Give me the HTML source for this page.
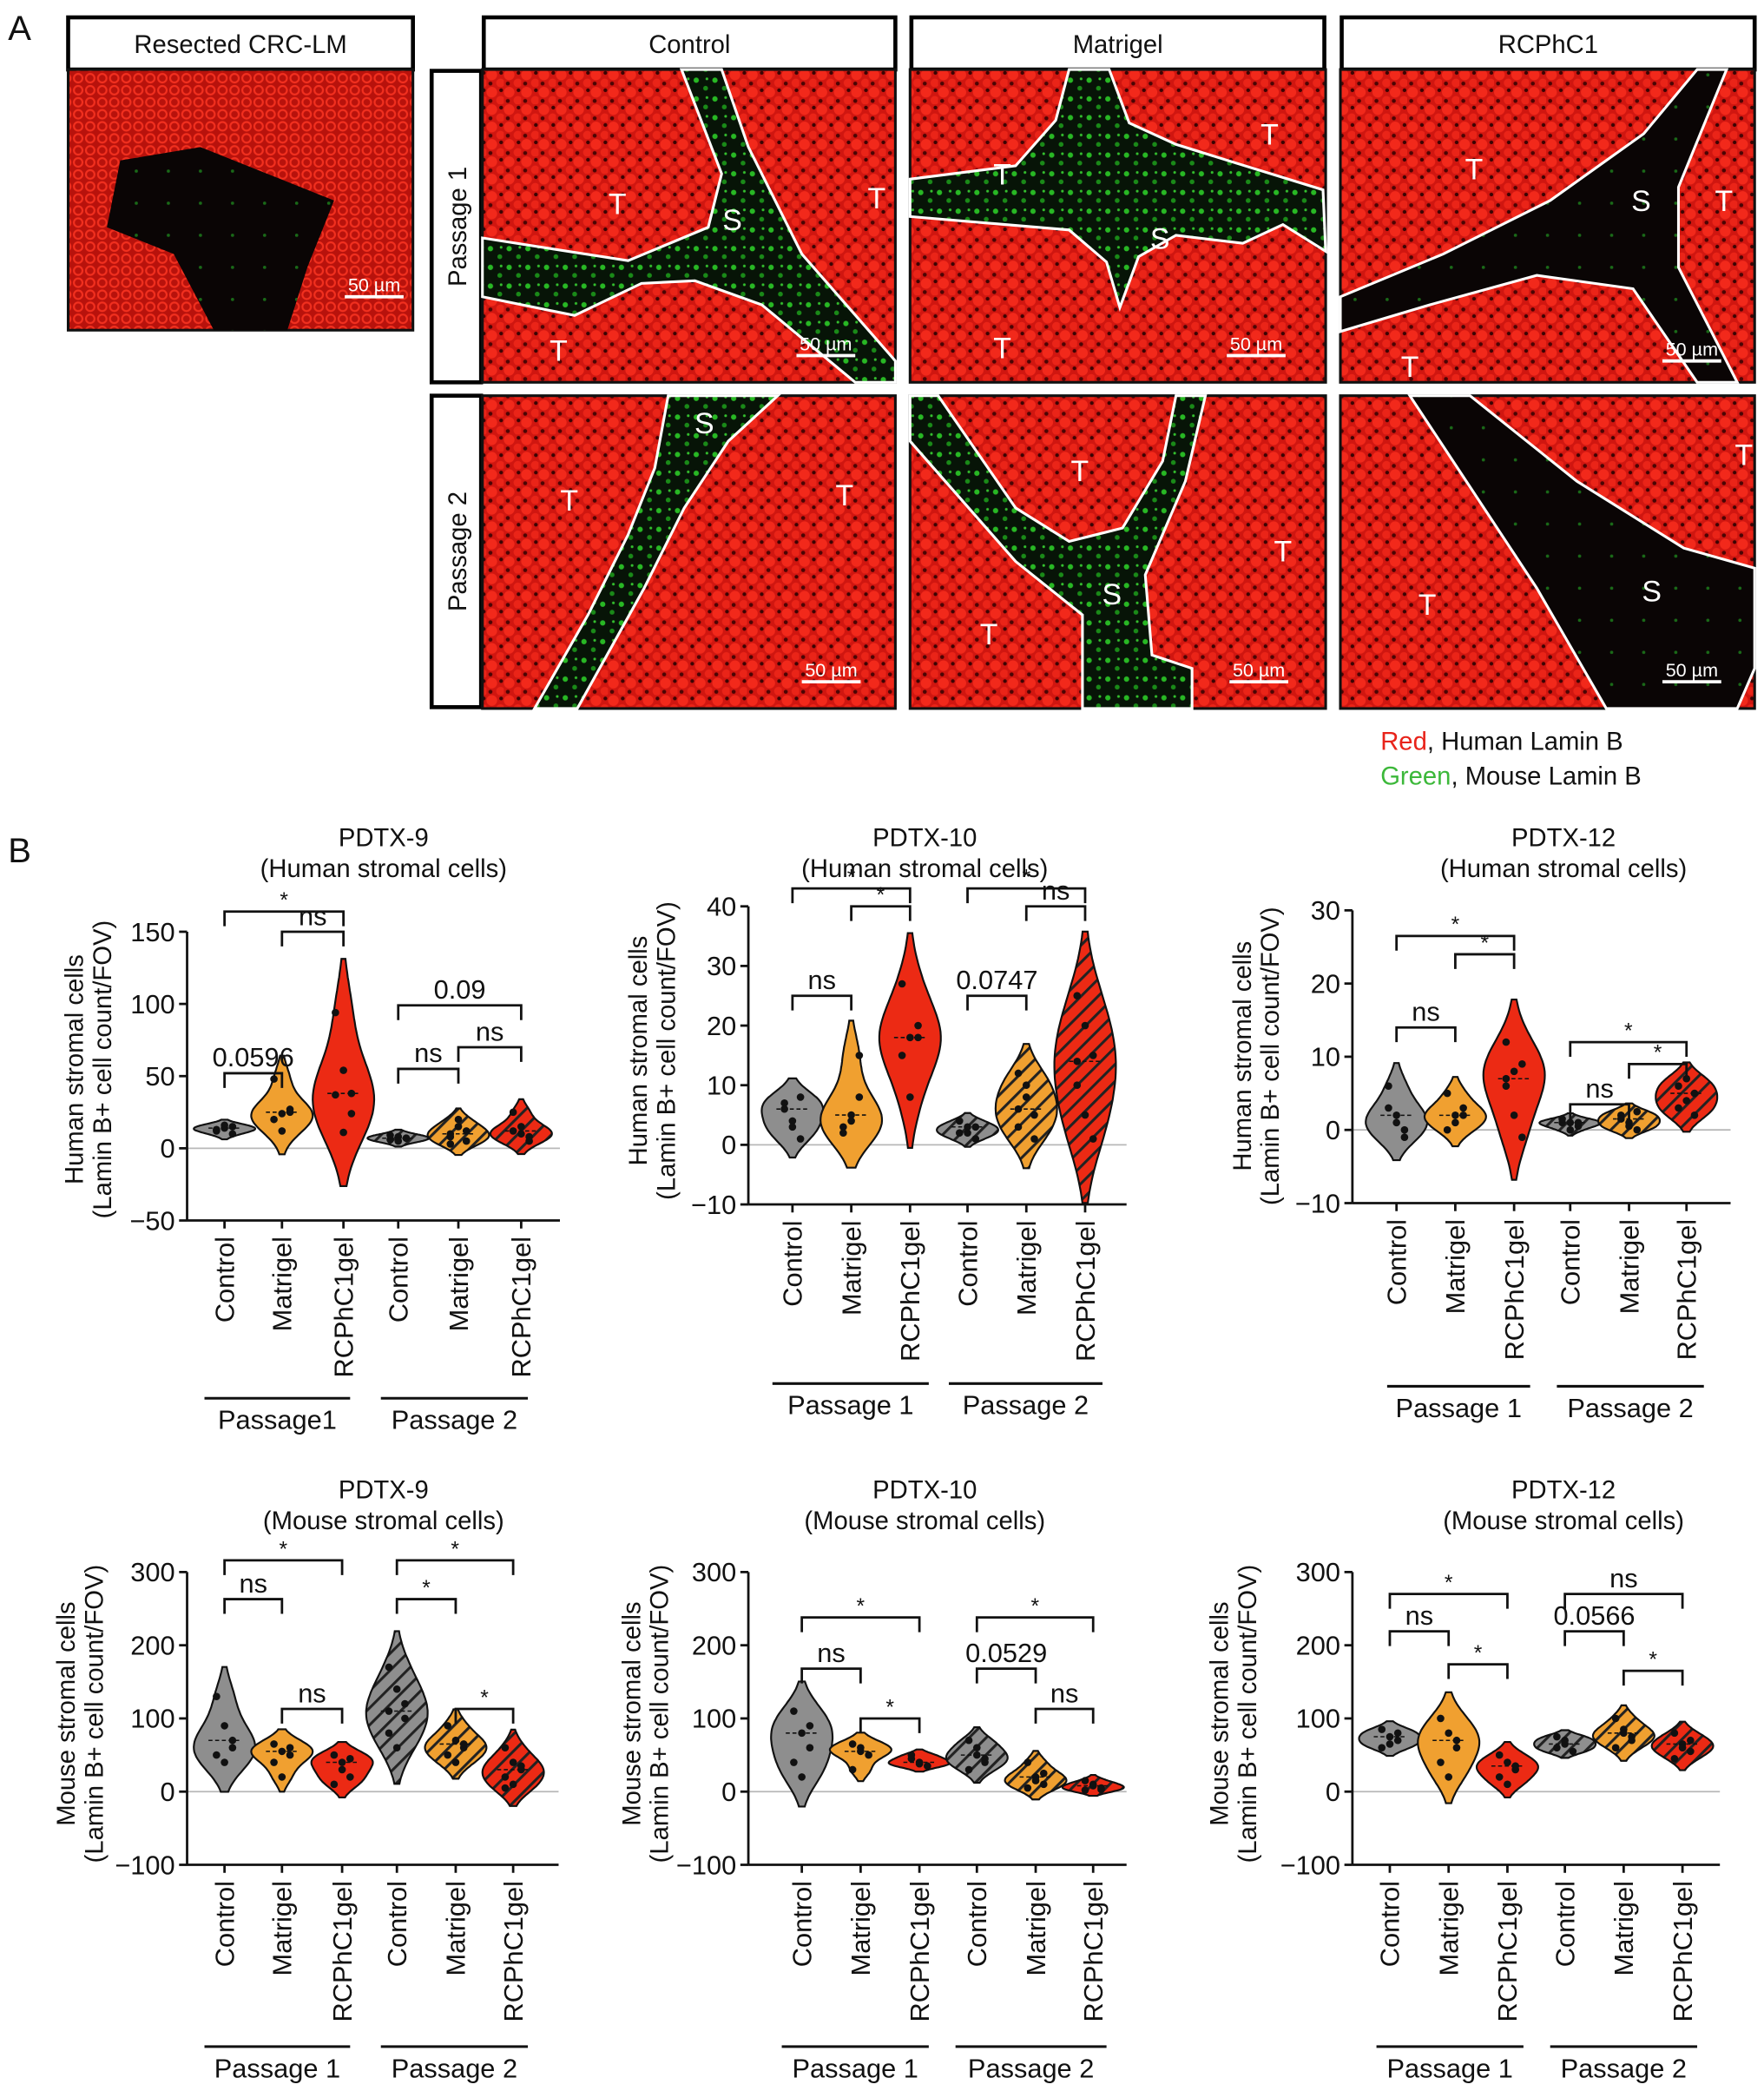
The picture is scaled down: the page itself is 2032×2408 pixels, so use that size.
<!DOCTYPE html>
<html><head><meta charset="utf-8"><style>
html,body{margin:0;padding:0;background:#fff}
svg{display:block}
text{font-family:"Liberation Sans",Arial,sans-serif;fill:#111}
</style></head><body>
<svg id="fig" width="2032" height="2408" viewBox="0 0 1320 1564.2" preserveAspectRatio="none" xmlns="http://www.w3.org/2000/svg">
<defs>
<pattern id="cells" width="13" height="13" patternUnits="userSpaceOnUse">
<rect width="13" height="13" fill="#d01610"/>
<circle cx="4" cy="4" r="4" fill="#f2291b"/>
<circle cx="10.5" cy="10" r="3.2" fill="#ea2418"/>
<circle cx="11" cy="2.5" r="1.4" fill="#3a0403"/>
<circle cx="3" cy="10.5" r="1.5" fill="#4a0504"/>
</pattern>
<pattern id="cells2" width="9" height="9" patternUnits="userSpaceOnUse">
<rect width="9" height="9" fill="#b8120c"/>
<circle cx="4.5" cy="4.5" r="3.2" fill="none" stroke="#f2301f" stroke-width="1.4"/>
</pattern>
<pattern id="stroma" width="14" height="14" patternUnits="userSpaceOnUse">
<rect width="14" height="14" fill="#071407"/>
<circle cx="3" cy="4" r="2" fill="#28b824"/>
<circle cx="10" cy="10" r="1.8" fill="#1a8a18"/>
<circle cx="11" cy="3" r="1" fill="#34c02e"/>
</pattern>
<pattern id="stromaDark" width="24" height="24" patternUnits="userSpaceOnUse">
<rect width="24" height="24" fill="#0a0505"/>
<circle cx="6" cy="8" r="1.2" fill="#1a6a18"/>
</pattern>
<pattern id="hG" width="9" height="9" patternUnits="userSpaceOnUse" patternTransform="rotate(45)"><rect width="9" height="9" fill="#8e8e8e"/><rect width="2" height="9" fill="#222"/></pattern>
<pattern id="hO" width="9" height="9" patternUnits="userSpaceOnUse" patternTransform="rotate(45)"><rect width="9" height="9" fill="#f0a030"/><rect width="2" height="9" fill="#222"/></pattern>
<pattern id="hR" width="9" height="9" patternUnits="userSpaceOnUse" patternTransform="rotate(45)"><rect width="9" height="9" fill="#ec2a14"/><rect width="2" height="9" fill="#222"/></pattern>
</defs>
<g id="panelA"></g>
<g id="panelB"></g>
</svg>
<script>
const NS="http://www.w3.org/2000/svg";
function el(tag,attrs,parent,txt){const e=document.createElementNS(NS,tag);for(const k in attrs)e.setAttribute(k,attrs[k]);if(txt!==undefined)e.textContent=txt;(parent||document.getElementById('fig')).appendChild(e);return e;}

/* ---------------- Panel A ---------------- */
const A=document.getElementById('panelA');
const aLabel=el('text',{x:6,y:30,'font-size':26},A,'A');


function headerBox(x,y,w,h,txt,name){
  const g=el('g',{},A);
  
  
  el('rect',{x:x,y:y,width:w,height:h,fill:'#fff',stroke:'#000','stroke-width':3},g);
  el('text',{x:x+w/2,y:y+h/2+7,'text-anchor':'middle','font-size':19},g,txt);
}
headerBox(51,13,258,39,'Resected CRC-LM','header-resected');
headerBox(362,13,308,39,'Control','header-control');
headerBox(682,13,309,39,'Matrigel','header-matrigel');
headerBox(1004,13,309,39,'RCPhC1','header-rcphc1');
function rowBox(y,h,txt,name){
  const g=el('g',{},A);
  
  
  el('rect',{x:323,y:y,width:37,height:h,fill:'#fff',stroke:'#000','stroke-width':3},g);
  el('text',{x:0,y:0,'text-anchor':'middle','font-size':19,transform:`translate(349,${y+h/2}) rotate(-90)`},g,txt);
}
rowBox(53,233,'Passage 1','row-passage-1');
rowBox(296,233,'Passage 2','row-passage-2');

const micro=[
 {x:51,y:52,w:258,h:195,name:'image-resected',pat:'cells2',poly:[[90,120],[150,110],[200,130],[250,150],[230,200],[215,247],[160,247],[130,190],[80,170]],sp:'stromaDark',labels:[],bar:[258,218]},
 {x:361,y:52,w:309,h:234,name:'image-p1-control',pat:'cells',poly:[[510,52],[540,130],[530,170],[470,195],[361,178],[361,222],[430,236],[480,212],[520,210],[570,228],[640,286],[670,286],[670,270],[600,190],[560,110],[540,52]],sp:'stroma',labels:[['T',462,160],['S',548,172],['T',656,156],['T',418,270]],bar:[596,262]},
 {x:681,y:52,w:311,h:234,name:'image-p1-matrigel',pat:'cells',poly:[[800,52],[830,52],[845,92],[880,108],[925,122],[990,142],[992,188],[960,168],[930,182],[880,176],[852,192],[838,230],[828,196],[800,172],[681,162],[681,134],[760,124],[790,90]],sp:'stroma',labels:[['T',750,138],['T',950,108],['S',868,186],['T',750,268]],bar:[918,262]},
 {x:1003,y:52,w:310,h:234,name:'image-p1-rcphc1',pat:'cells',poly:[[1270,52],[1292,52],[1256,140],[1256,200],[1300,286],[1270,286],[1222,216],[1150,206],[1070,228],[1003,248],[1003,222],[1080,190],[1160,150],[1230,100]],sp:'stromaDark',labels:[['T',1103,134],['S',1228,158],['T',1290,158],['T',1055,282]],bar:[1244,266]},
 {x:361,y:296,w:309,h:234,name:'image-p2-control',pat:'cells',poly:[[500,296],[582,296],[545,330],[512,380],[482,440],[432,530],[400,530],[440,460],[470,400],[490,350]],sp:'stroma',labels:[['S',527,324],['T',426,382],['T',632,378]],bar:[600,506]},
 {x:681,y:296,w:311,h:234,name:'image-p2-matrigel',pat:'cells',poly:[[681,296],[702,296],[760,380],[800,405],[840,395],[870,345],[880,296],[902,296],[887,360],[857,430],[862,490],[892,500],[892,530],[810,530],[810,460],[760,420],[681,330]],sp:'stroma',labels:[['T',808,360],['T',960,420],['S',832,452],['T',740,482]],bar:[920,506]},
 {x:1003,y:296,w:310,h:234,name:'image-p2-rcphc1',pat:'cells',poly:[[1055,296],[1100,296],[1180,360],[1260,410],[1313,425],[1313,500],[1300,530],[1202,530],[1150,440]],sp:'stromaDark',labels:[['T',1305,348],['T',1068,460],['S',1236,450]],bar:[1244,506]}
];
micro.forEach(m=>{
  const g=el('g',{},A);
  
  
  el('rect',{x:m.x,y:m.y,width:m.w,height:m.h,fill:'url(#'+m.pat+')',stroke:'#111','stroke-width':2},g);
  el('polygon',{points:m.poly.map(p=>p.join(',')).join(' '),fill:'url(#'+m.sp+')',stroke:m.name==='image-resected'?'none':'#fff','stroke-width':2},g);
  m.labels.forEach(l=>el('text',{x:l[1],y:l[2],'text-anchor':'middle','font-size':22,style:'fill:#fff'},g,l[0]));
  el('line',{x1:m.bar[0],y1:m.bar[1]+4,x2:m.bar[0]+44,y2:m.bar[1]+4,stroke:'#fff','stroke-width':2.5},g);
  el('text',{x:m.bar[0]+22,y:m.bar[1],'text-anchor':'middle','font-size':14,style:'fill:#fff'},g,'50 µm');
});
const leg=el('g',{},A);


const l1=el('text',{x:1033,y:561,'font-size':19},leg);
el('tspan',{style:'fill:#e8231a'},l1,'Red');el('tspan',{},l1,', Human Lamin B');
const l2=el('text',{x:1033,y:587,'font-size':19},leg);
el('tspan',{style:'fill:#3cb83a'},l2,'Green');el('tspan',{},l2,', Mouse Lamin B');

/* ---------------- Panel B data ---------------- */
const categories=['Control','Matrigel','RCPhC1gel','Control','Matrigel','RCPhC1gel'];
const passages=['Passage 1','Passage 2'];

const humanTicks9=[150,100,50,0,-50];
const humanVals9=[[12,14,15,13,16,10],[48,24,27,20,12,25],[94,54,38,37,11,24],[6,8,7,9,5,7],[10,15,5,8,20,12,3],[25,10,8,12,15,5]];
const humanSig9=[[0,2,164,'*'],[1,2,150,'ns'],[0,1,52,'0.0596'],[3,5,99,'0.09'],[3,4,55,'ns'],[4,5,70,'ns']];

const humanTicks10=[40,30,20,10,0,-10];
const humanVals10=[[7,4,1,6,3,8],[2,4,8,3,5,15],[27,18,18,15,8,20],[2,3,1,4,2,3],[12,8,5,3,10,1,6],[25,20,15,10,5,1,14]];
const humanSig10=[[0,2,43,'*'],[1,2,40,'*'],[0,1,25,'ns'],[3,5,43,'*'],[4,5,40,'ns'],[3,4,25,'0.0747']];

const humanTicks12=[30,20,10,0,-10];
const humanVals12=[[6,1,0,3,2,-1],[5,2,3,0,1,2],[12,8,9,6,2,-1,7],[1,1,0.5,1.5,0,1],[2,1,0,1.5,0.5,2.5],[6,4,5,3,7,2]];
const humanSig12=[[0,2,26.5,'*'],[1,2,24,'*'],[0,1,14,'ns'],[3,5,12,'*'],[4,5,9,'*'],[3,4,3.5,'ns']];

const mouseTicks=[300,200,100,0,-100];
const mouseVals9=[[130,90,60,50,40,70],[65,55,50,40,20,60],[50,40,20,10,30,45],[170,140,100,80,60,120,110],[90,70,60,50,40,65],[60,40,30,20,10,35,5]];
const mouseSig9=[[0,2,316,'*'],[0,1,263,'ns'],[1,2,113,'ns'],[3,5,316,'*'],[3,4,263,'*'],[4,5,113,'*']];
const mouseVals10=[[110,80,60,40,20,90],[65,60,50,30,55],[45,40,35,50,38],[70,50,40,30,60,45],[40,20,10,5,15,25],[15,10,5,2,8,3]];
const mouseSig10=[[0,2,238,'*'],[0,1,168,'ns'],[1,2,100,'*'],[3,5,238,'*'],[3,4,168,'0.0529'],[4,5,113,'ns']];
const mouseVals12=[[85,75,70,60,65,80],[100,80,60,40,20,70],[50,40,30,20,10,35],[75,65,55,60,70],[100,85,75,60,80,70],[80,65,55,45,60,70]];
const mouseSig12=[[0,2,270,'*'],[0,1,219,'ns'],[1,2,174,'*'],[3,5,270,'ns'],[3,4,219,'0.0566'],[4,5,165,'*']];

const fills=['#8e8e8e','#f0a030','#ec2a14','url(#hG)','url(#hO)','url(#hR)'];

const charts=[
 {name:'chart-pdtx9-human',t1:'PDTX-9',t2:'(Human stromal cells)',tc:287,ty:627,ax:140,axEnd:419,yTop:697,yBot:913,ticks:humanTicks9,vals:humanVals9,sig:humanSig9,cx:[168,211,257,298,343,390],yl:'Human stromal cells',ylx:62,yly:800,pl:1046,plab:['Passage1','Passage 2'],pr:[[153,262],[285,395]]},
 {name:'chart-pdtx10-human',t1:'PDTX-10',t2:'(Human stromal cells)',tc:692,ty:627,ax:560,axEnd:843,yTop:678,yBot:901,ticks:humanTicks10,vals:humanVals10,sig:humanSig10,cx:[593,637,681,724,768,812],yl:'Human stromal cells',ylx:484,yly:786,pl:1035,plab:passages,pr:[[578,695],[710,825]]},
 {name:'chart-pdtx12-human',t1:'PDTX-12',t2:'(Human stromal cells)',tc:1170,ty:627,ax:1012,axEnd:1295,yTop:681,yBot:900,ticks:humanTicks12,vals:humanVals12,sig:humanSig12,cx:[1045,1089,1133,1175,1219,1262],yl:'Human stromal cells',ylx:936,yly:790,pl:1037,plab:passages,pr:[[1038,1145],[1165,1275]]},
 {name:'chart-pdtx9-mouse',t1:'PDTX-9',t2:'(Mouse stromal cells)',tc:287,ty:1115,ax:140,axEnd:418,yTop:1176,yBot:1395,ticks:mouseTicks,vals:mouseVals9,sig:mouseSig9,cx:[168,211,256,297,341,384],yl:'Mouse stromal cells',ylx:56,yly:1282,pl:1531,plab:passages,pr:[[153,262],[285,395]]},
 {name:'chart-pdtx10-mouse',t1:'PDTX-10',t2:'(Mouse stromal cells)',tc:692,ty:1115,ax:560,axEnd:843,yTop:1176,yBot:1395,ticks:mouseTicks,vals:mouseVals10,sig:mouseSig10,cx:[600,644,688,731,775,818],yl:'Mouse stromal cells',ylx:479,yly:1282,pl:1531,plab:passages,pr:[[585,695],[715,828]]},
 {name:'chart-pdtx12-mouse',t1:'PDTX-12',t2:'(Mouse stromal cells)',tc:1170,ty:1115,ax:1012,axEnd:1287,yTop:1176,yBot:1395,ticks:mouseTicks,vals:mouseVals12,sig:mouseSig12,cx:[1040,1084,1128,1171,1215,1259],yl:'Mouse stromal cells',ylx:919,yly:1282,pl:1531,plab:passages,pr:[[1030,1140],[1160,1270]]}
];

const B=document.getElementById('panelB');
const bLabel=el('text',{x:6,y:645,'font-size':26},B,'B');



charts.forEach(c=>{
  const g=el('g',{},B);
  
  
  const tMax=c.ticks[0],tMin=c.ticks[c.ticks.length-1];
  const Y=v=>c.yBot-(v-tMin)/(tMax-tMin)*(c.yBot-c.yTop);
  const t1=el('text',{x:c.tc,y:c.ty+6,'text-anchor':'middle','font-size':19},g,c.t1);
  
  
  el('text',{x:c.tc,y:c.ty+29,'text-anchor':'middle','font-size':19},g,c.t2);
  const yl=el('text',{'text-anchor':'middle','font-size':19,transform:`translate(${c.ylx},${c.yly}) rotate(-90)`},g);
  
  
  el('tspan',{x:0,dy:0},yl,c.yl);
  el('tspan',{x:0,dy:21},yl,'(Lamin B+ cell count/FOV)');
  el('line',{x1:c.ax,x2:c.axEnd,y1:Y(0),y2:Y(0),stroke:'#b8b8b8','stroke-width':1.2},g);
  el('line',{x1:c.ax,x2:c.ax,y1:c.yTop,y2:c.yBot,stroke:'#111','stroke-width':1.8},g);
  el('line',{x1:c.ax,x2:c.axEnd,y1:c.yBot,y2:c.yBot,stroke:'#111','stroke-width':1.8},g);
  c.ticks.forEach(t=>{
    el('line',{x1:c.ax-6,x2:c.ax,y1:Y(t),y2:Y(t),stroke:'#111','stroke-width':1.8},g);
    const tl=el('text',{x:c.ax-9,y:Y(t)+7,'text-anchor':'end','font-size':20},g,t<0?'\u2212'+(-t):String(t));
    
    
  });
  c.cx.forEach((x,i)=>{
    el('line',{x1:x,x2:x,y1:c.yBot,y2:c.yBot+6,stroke:'#111','stroke-width':1.8},g);
    const cl=el('text',{'text-anchor':'end','font-size':20,transform:`translate(${x+7},${c.yBot+12}) rotate(-90)`},g,categories[i]);
    
    
  });
  c.pr.forEach((r,i)=>{
    el('line',{x1:r[0],x2:r[1],y1:c.pl,y2:c.pl,stroke:'#111','stroke-width':2},g);
    const pl=el('text',{x:(r[0]+r[1])/2,y:c.pl+23,'text-anchor':'middle','font-size':20},g,c.plab[i]);
    
    
  });
  c.vals.forEach((vals,i)=>{
    const mn=Math.min(...vals),mx=Math.max(...vals);
    const bw=Math.max((mx-mn)*0.28,(tMax-tMin)*0.012);
    const lo=mn-bw*1.6,hi=mx+bw*1.6;
    const N=50,pts=[];let dmax=0;
    for(let k=0;k<=N;k++){const y=lo+(hi-lo)*k/N;let d=0;vals.forEach(v=>{d+=Math.exp(-0.5*((y-v)/bw)**2);});pts.push([y,d]);if(d>dmax)dmax=d;}
    const hw=23;
    let p='';
    pts.forEach((q,k)=>{p+=(k?'L':'M')+(c.cx[i]+q[1]/dmax*hw).toFixed(1)+','+Y(q[0]).toFixed(1);});
    for(let k=pts.length-1;k>=0;k--){const q=pts[k];p+='L'+(c.cx[i]-q[1]/dmax*hw).toFixed(1)+','+Y(q[0]).toFixed(1);}
    p+='Z';
    const v=el('path',{d:p,fill:fills[i],stroke:'#111','stroke-width':1.4},g);
    
    
    const sorted=[...vals].sort((a,b)=>a-b);const med=sorted[Math.floor(sorted.length/2)];
    el('line',{x1:c.cx[i]-12,x2:c.cx[i]+12,y1:Y(med),y2:Y(med),stroke:'#111','stroke-width':1,'stroke-dasharray':'3,2'},g);
    vals.forEach((val,j)=>{
      const d=el('circle',{cx:c.cx[i]+((j%3)-1)*6,cy:Y(val),r:2.8,fill:'#111'},g);
      
      
    });
  });
  c.sig.forEach(s=>{
    const x1=c.cx[s[0]],x2=c.cx[s[1]],y=Y(s[2]);
    const b=el('path',{d:`M${x1},${y+11}V${y}H${x2}V${y+11}`,fill:'none',stroke:'#111','stroke-width':1.8},g);
    
    
    const star=s[3]==='*';
    el('text',{x:(x1+x2)/2,y:star?y-3:y-5,'text-anchor':'middle','font-size':star?16:20},g,s[3]);
  });
});
</script>
</body></html>
